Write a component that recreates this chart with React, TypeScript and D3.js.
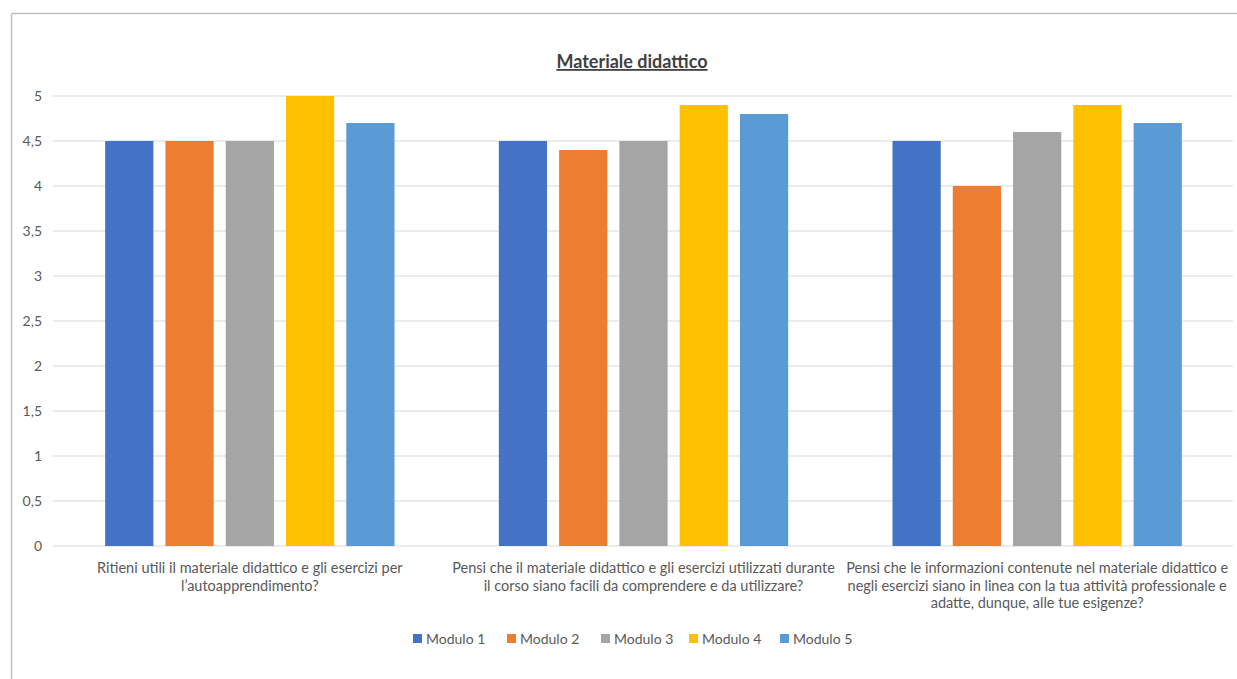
import React from "react";
import * as d3 from "d3";

const categories = [
  "Ritieni utili il materiale didattico e gli esercizi per l’autoapprendimento?",
  "Pensi che il materiale didattico e gli esercizi utilizzati durante il corso siano facili da comprendere e da utilizzare?",
  "Pensi che le informazioni contenute nel materiale didattico e negli esercizi siano in linea con la tua attività professionale e adatte, dunque, alle tue esigenze?",
];
const categoryLines = [
  ["Ritieni utili il materiale didattico e gli esercizi per", "l’autoapprendimento?"],
  ["Pensi che il materiale didattico e gli esercizi utilizzati durante", "il corso siano facili da comprendere e da utilizzare?"],
  ["Pensi che le informazioni contenute nel materiale didattico e", "negli esercizi siano in linea con la tua attività professionale e", "adatte, dunque, alle tue esigenze?"],
];
const seriesNames = ["Modulo 1", "Modulo 2", "Modulo 3", "Modulo 4", "Modulo 5"];
const modulo1 = [4.5, 4.5, 4.5];
const modulo2 = [4.5, 4.4, 4.0];
const modulo3 = [4.5, 4.5, 4.6];
const modulo4 = [5.0, 4.9, 4.9];
const modulo5 = [4.7, 4.8, 4.7];
const seriesValues = [modulo1, modulo2, modulo3, modulo4, modulo5];
const yTicks = [0, 0.5, 1, 1.5, 2, 2.5, 3, 3.5, 4, 4.5, 5];
const colors = ["#4472C4", "#ED7D31", "#A5A5A5", "#FFC000", "#5B9BD5"];

const W = 1237;
const H = 679;
const FONT = "Lato, 'Open Sans', sans-serif";

export default function App() {
  const x0 = d3
    .scaleBand<number>()
    .domain(d3.range(categories.length))
    .range([53, 1234])
    .paddingInner(0.265)
    .paddingOuter(0.1325);
  const x1 = d3
    .scaleBand<number>()
    .domain(d3.range(seriesNames.length))
    .range([0, x0.bandwidth()])
    .paddingInner(0.2)
    .paddingOuter(0);
  const y = d3.scaleLinear().domain([0, 5]).range([546, 96]);
  const fmt = (v: number) => String(v).replace(".", ",");

  const legendX = [413, 507, 601, 689, 780];

  return (
    <svg
      width={W}
      height={H}
      style={{ position: "absolute", left: 0, top: 0, background: "#fff" }}
    >
      <rect x={0} y={0} width={W} height={H} fill="#fff" />
      {/* chart border */}
      <line x1={11.5} y1={13.5} x2={W} y2={13.5} stroke="#BFBFBF" strokeWidth={1.5} />
      <line x1={11.5} y1={13.5} x2={11.5} y2={H} stroke="#BFBFBF" strokeWidth={1.5} />

      {/* title */}
      <text
        x={632}
        y={68}
        textAnchor="middle"
        fontFamily={FONT}
        fontSize={18}
        fontWeight="bold"
        fill="#404040"
        textDecoration="underline"
      >
        Materiale didattico
      </text>

      {/* gridlines + y ticks */}
      {yTicks.map((t) => (
        <g key={t}>
          <line x1={53} x2={1233} y1={y(t)} y2={y(t)} stroke="#D9D9D9" strokeWidth={1} />
          <text
            x={42}
            y={y(t)}
            dy="0.35em"
            textAnchor="end"
            fontFamily={FONT}
            fontSize={14}
            fill="#595959"
          >
            {fmt(t)}
          </text>
        </g>
      ))}

      {/* bars */}
      {categories.map((c, ci) => (
        <g key={c} transform={`translate(${x0(ci)},0)`}>
          {seriesValues.map((vals, si) => (
            <rect
              key={si}
              x={x1(si)}
              y={y(vals[ci])}
              width={x1.bandwidth()}
              height={y(0) - y(vals[ci])}
              fill={colors[si]}
            />
          ))}
        </g>
      ))}

      {/* category labels */}
      {categoryLines.map((lines, ci) => (
        <text
          key={ci}
          textAnchor="middle"
          fontFamily={FONT}
          fontSize={14.5}
          fill="#595959"
        >
          {lines.map((l, li) => (
            <tspan key={li} x={(x0(ci) as number) + x0.bandwidth() / 2} y={573 + li * 17.5}>
              {l}
            </tspan>
          ))}
        </text>
      ))}

      {/* legend */}
      {seriesNames.map((n, i) => (
        <g key={n}>
          <rect x={legendX[i]} y={634} width={9} height={9} fill={colors[i]} />
          <text
            x={legendX[i] + 13}
            y={639}
            dy="0.35em"
            fontFamily={FONT}
            fontSize={14}
            fill="#595959"
          >
            {n}
          </text>
        </g>
      ))}
    </svg>
  );
}
